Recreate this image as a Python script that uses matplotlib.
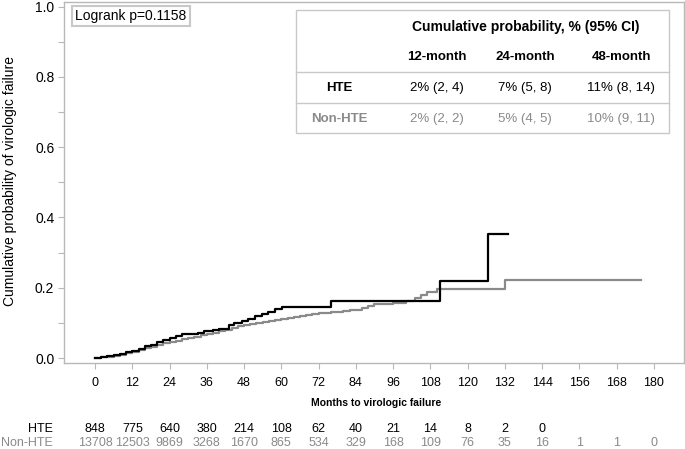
import matplotlib
matplotlib.use('Agg')
import matplotlib.pyplot as plt
import matplotlib.transforms as mtransforms
from matplotlib.patches import Rectangle
from matplotlib.lines import Line2D
from matplotlib.ticker import MultipleLocator, FormatStrFormatter

plt.rcParams['font.family'] = ['Liberation Sans', 'DejaVu Sans']

# ---------------- data ----------------
hte_time = [0, 2, 4, 6, 8, 10, 12, 14, 16, 18, 20, 22, 24, 26, 28, 33, 35, 38,
            40, 43, 44.6, 47.3, 49.2, 51.5, 53.8, 55.7, 58, 60.2, 76, 111, 126.5]
hte_prob = [0.0, 0.003, 0.006, 0.009, 0.013, 0.017, 0.021, 0.027, 0.033, 0.038,
            0.045, 0.051, 0.057, 0.063, 0.069, 0.072, 0.076, 0.080, 0.082, 0.094,
            0.100, 0.106, 0.112, 0.119, 0.126, 0.132, 0.139, 0.146, 0.162, 0.220, 0.352]
hte_end = 133

non_time = [0, 2, 4, 6, 8, 10, 12, 14, 16, 18, 20, 22, 24, 26, 28, 30, 32, 34, 36,
            38, 40, 42, 44, 46, 48, 50, 52, 54, 56, 58, 60, 62, 64, 66, 68, 70, 72,
            74, 76, 78, 80, 82, 84, 86, 88, 90, 96, 100, 103, 105, 107, 110, 132]
non_prob = [0.000, 0.002, 0.004, 0.006, 0.010, 0.014, 0.018, 0.023, 0.028, 0.032,
            0.037, 0.042, 0.046, 0.050, 0.054, 0.058, 0.061, 0.065, 0.068, 0.072,
            0.076, 0.080, 0.085, 0.090, 0.094, 0.097, 0.100, 0.103, 0.106, 0.108,
            0.111, 0.114, 0.117, 0.120, 0.123, 0.126, 0.128, 0.129, 0.131, 0.132,
            0.134, 0.136, 0.138, 0.142, 0.149, 0.155, 0.158, 0.163, 0.170, 0.179,
            0.189, 0.196, 0.222]
non_end = 176

xticks = list(range(0, 181, 12))
yticks = [0.0, 0.2, 0.4, 0.6, 0.8, 1.0]
groups = ['HTE', 'Non-HTE']
hte_risk = [848, 775, 640, 380, 214, 108, 62, 40, 21, 14, 8, 2, 0]
non_risk = [13708, 12503, 9869, 3268, 1670, 865, 534, 329, 168, 109, 76, 35, 16, 1, 1, 0]

table_title = 'Cumulative probability, % (95% CI)'
table_cols = ['12-month', '24-month', '48-month']
table_hte = ['2% (2, 4)', '7% (5, 8)', '11% (8, 14)']
table_non = ['2% (2, 2)', '5% (4, 5)', '10% (9, 11)']
logrank_text = 'Logrank p=0.1158'
xlabel = 'Months to virologic failure'
ylabel = 'Cumulative probability of virologic failure'

# ---------------- style ----------------
W, H = 685, 449
BLACK = '#000000'
GRAY = '#8a8a8a'
FRAME = '#b8b8b8'

def fx(px):
    return px / W

def fy(py):
    return 1 - py / H

fig = plt.figure(figsize=(W / 100, H / 100), dpi=100)
ax = fig.add_axes([fx(64), fy(363), (684 - 64) / W, (363 - 2) / H])

ax.step(non_time + [non_end], non_prob + [non_prob[-1]], where='post',
        color=GRAY, lw=1.6, zorder=3)
ax.step(hte_time + [hte_end], hte_prob + [hte_prob[-1]], where='post',
        color=BLACK, lw=1.6, zorder=4)

ax.set_xlim(-10, 189.7)
ax.set_ylim(-0.014, 1.013)
ax.set_xticks(xticks)
ax.set_xticklabels([str(t) for t in xticks])
ax.set_yticks(yticks)
ax.yaxis.set_major_formatter(FormatStrFormatter('%.1f'))
ax.yaxis.set_minor_locator(MultipleLocator(0.1))

for s in ax.spines.values():
    s.set_color(FRAME)
    s.set_linewidth(1.0)
ax.tick_params(axis='x', which='major', direction='out', length=4, width=0.8,
               color=FRAME, labelsize=9, pad=6)
ax.tick_params(axis='y', which='major', direction='out', length=4, width=0.8,
               color=FRAME, labelsize=10, pad=3)
ax.tick_params(axis='y', which='minor', direction='out', length=4, width=0.8,
               color=FRAME)

# axis labels
fig.text(fx(376), fy(403), xlabel, ha='center', va='center', fontsize=7.5,
         fontweight='bold')
fig.text(fx(10), fy(181), ylabel, ha='center', va='center', rotation=90,
         fontsize=10)

# logrank box
fig.text(fx(75), fy(16), logrank_text, ha='left', va='center', fontsize=10,
         bbox=dict(boxstyle='square,pad=0.25', fc='white', ec='#c8c8c8', lw=1.5))

# number at risk
trans = mtransforms.blended_transform_factory(ax.transData, fig.transFigure)
row_y = [fy(429), fy(443)]
row_c = [BLACK, GRAY]
for g, yv, c in zip(groups, row_y, row_c):
    fig.text(fx(53), yv, g, ha='right', va='center', fontsize=9, color=c)
for t, n in zip(xticks, hte_risk):
    fig.text(t, row_y[0], str(n), transform=trans, ha='center', va='center',
             fontsize=9, color=BLACK)
for t, n in zip(xticks, non_risk):
    fig.text(t, row_y[1], str(n), transform=trans, ha='center', va='center',
             fontsize=9, color=GRAY)

# inset table
tl, tr, tt, tb = 296, 669, 10, 133
fig.patches.append(Rectangle((fx(tl), fy(tb)), (tr - tl) / W, (tb - tt) / H,
                             transform=fig.transFigure, fc='white', ec='#c8c8c8',
                             lw=1.0, zorder=5))
for ly in [72, 103]:
    fig.lines.append(Line2D([fx(tl), fx(tr)], [fy(ly), fy(ly)],
                            transform=fig.transFigure, color='#c8c8c8', lw=1.0,
                            zorder=6))
col_x = [437, 525, 621]
fig.text(fx(526), fy(27), table_title, ha='center', va='center', fontsize=10,
         fontweight='bold', zorder=7)
for cx, lab in zip(col_x, table_cols):
    fig.text(fx(cx), fy(57), lab, ha='center', va='center', fontsize=9.5,
             fontweight='bold', zorder=7)
fig.text(fx(339), fy(88), groups[0], ha='center', va='center', fontsize=9.5,
         fontweight='bold', color=BLACK, zorder=7)
fig.text(fx(339), fy(119), groups[1], ha='center', va='center', fontsize=9.5,
         fontweight='bold', color=GRAY, zorder=7)
for cx, v in zip(col_x, table_hte):
    fig.text(fx(cx), fy(88), v, ha='center', va='center', fontsize=9.5,
             color=BLACK, zorder=7)
for cx, v in zip(col_x, table_non):
    fig.text(fx(cx), fy(119), v, ha='center', va='center', fontsize=9.5,
             color=GRAY, zorder=7)

fig.savefig('out.png', dpi=100)
